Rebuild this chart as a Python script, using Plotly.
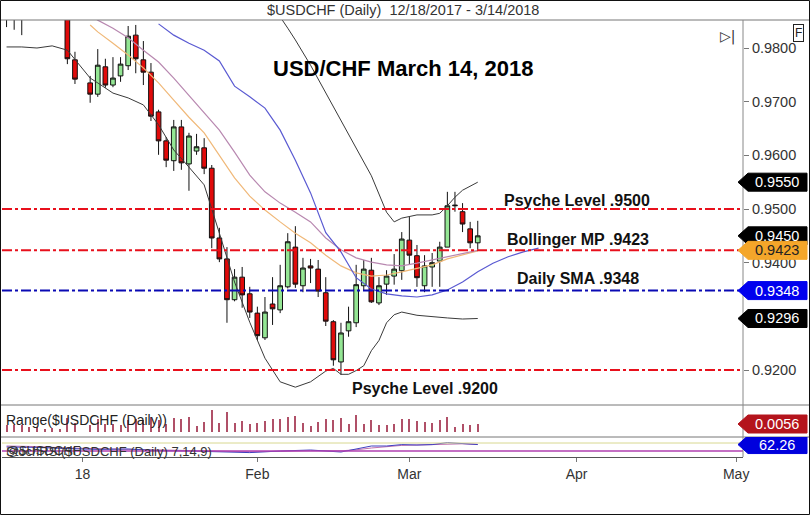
import plotly.graph_objects as go

# ---------------- data ----------------
dates = [
    "2017-12-18", "2017-12-19", "2017-12-20", "2017-12-21", "2017-12-22",
    "2017-12-25", "2017-12-26", "2017-12-27", "2017-12-28", "2017-12-29",
    "2018-01-02", "2018-01-03", "2018-01-04", "2018-01-05", "2018-01-08",
    "2018-01-09", "2018-01-10", "2018-01-11", "2018-01-12", "2018-01-15",
    "2018-01-16", "2018-01-17", "2018-01-18", "2018-01-19", "2018-01-22",
    "2018-01-23", "2018-01-24", "2018-01-25", "2018-01-26", "2018-01-29",
    "2018-01-30", "2018-01-31", "2018-02-01", "2018-02-02", "2018-02-05",
    "2018-02-06", "2018-02-07", "2018-02-08", "2018-02-09", "2018-02-12",
    "2018-02-13", "2018-02-14", "2018-02-15", "2018-02-16", "2018-02-19",
    "2018-02-20", "2018-02-21", "2018-02-22", "2018-02-23", "2018-02-26",
    "2018-02-27", "2018-02-28", "2018-03-01", "2018-03-02", "2018-03-05",
    "2018-03-06", "2018-03-07", "2018-03-08", "2018-03-09", "2018-03-12",
    "2018-03-13", "2018-03-14",
]
opens = [
    0.9872, 0.9866, 0.9858, 0.9861, 0.9880, 0.9886, 0.9880, 0.9868, 0.9862, 0.9778,
    0.9735, 0.9714, 0.9765, 0.9731, 0.9748, 0.9767, 0.9824, 0.9778, 0.9755, 0.9681,
    0.9627, 0.9590, 0.9653, 0.9584, 0.9608, 0.9614, 0.9576, 0.9446, 0.9407, 0.9331,
    0.9373, 0.9342, 0.9306, 0.9260, 0.9323, 0.9312, 0.9355, 0.9429, 0.9357, 0.9394,
    0.9388, 0.9344, 0.9290, 0.9215, 0.9273, 0.9288, 0.9357, 0.9386, 0.9325, 0.9360,
    0.9375, 0.9385, 0.9442, 0.9413, 0.9357, 0.9392, 0.9403, 0.9429, 0.9506, 0.9495,
    0.9463, 0.9437,
]
highs = [
    0.9885, 0.9880, 0.9872, 0.9888, 0.9896, 0.9892, 0.9890, 0.9876, 0.9870, 0.9793,
    0.9748, 0.9798, 0.9780, 0.9783, 0.9783, 0.9841, 0.9843, 0.9813, 0.9772, 0.9685,
    0.9634, 0.9666, 0.9666, 0.9642, 0.9640, 0.9632, 0.9582, 0.9465, 0.9429, 0.9388,
    0.9392, 0.9355, 0.9318, 0.9336, 0.9373, 0.9396, 0.9455, 0.9468, 0.9409, 0.9407,
    0.9405, 0.9373, 0.9293, 0.9288, 0.9318, 0.9396, 0.9405, 0.9409, 0.9373, 0.9386,
    0.9416, 0.9457, 0.9485, 0.9433, 0.9414, 0.9418, 0.9439, 0.9532, 0.9532, 0.9511,
    0.9476, 0.9478,
]
lows = [
    0.9839, 0.9834, 0.9824, 0.9856, 0.9862, 0.9874, 0.9860, 0.9855, 0.9770, 0.9733,
    0.9698, 0.9709, 0.9726, 0.9727, 0.9737, 0.9759, 0.9753, 0.9731, 0.9664, 0.9601,
    0.9578, 0.9571, 0.9573, 0.9534, 0.9601, 0.9565, 0.9427, 0.9401, 0.9288, 0.9328,
    0.9316, 0.9297, 0.9256, 0.9256, 0.9284, 0.9306, 0.9352, 0.9353, 0.9345, 0.9362,
    0.9336, 0.9282, 0.9208, 0.9191, 0.9262, 0.9280, 0.9349, 0.9325, 0.9321, 0.9340,
    0.9359, 0.9368, 0.9396, 0.9355, 0.9345, 0.9355, 0.9355, 0.9429, 0.9495, 0.9457,
    0.9427, 0.9424,
]
closes = [
    0.9866, 0.9858, 0.9861, 0.9880, 0.9886, 0.9880, 0.9868, 0.9862, 0.9780, 0.9742,
    0.9714, 0.9768, 0.9731, 0.9744, 0.9770, 0.9822, 0.9780, 0.9755, 0.9673, 0.9627,
    0.9591, 0.9653, 0.9586, 0.9636, 0.9616, 0.9576, 0.9446, 0.9407, 0.9331, 0.9373,
    0.9340, 0.9308, 0.9264, 0.9308, 0.9314, 0.9357, 0.9439, 0.9360, 0.9390, 0.9390,
    0.9347, 0.9291, 0.9219, 0.9269, 0.9290, 0.9359, 0.9388, 0.9327, 0.9357, 0.9375,
    0.9388, 0.9444, 0.9414, 0.9372, 0.9394, 0.9400, 0.9429, 0.9506, 0.9507, 0.9472,
    0.9437, 0.9450,
]

# Bollinger bands (20,2)
lower_dates = ["2017-12-18", "2017-12-20", "2017-12-22", "2017-12-26", "2017-12-28",
               "2018-01-02", "2018-01-03", "2018-01-05", "2018-01-09", "2018-01-11",
               "2018-01-15", "2018-01-17", "2018-01-19", "2018-01-23", "2018-01-25",
               "2018-01-29", "2018-01-31", "2018-02-02", "2018-02-06", "2018-02-08",
               "2018-02-12", "2018-02-14", "2018-02-15", "2018-02-16", "2018-02-19",
               "2018-02-20", "2018-02-21", "2018-02-22", "2018-02-23", "2018-02-26",
               "2018-02-27", "2018-02-28", "2018-03-02", "2018-03-06", "2018-03-08",
               "2018-03-12", "2018-03-14"]
lower_vals = [0.9802, 0.9802, 0.9800, 0.9804, 0.9796,
              0.9744, 0.9735, 0.9716, 0.9707, 0.9694,
              0.9657, 0.9610, 0.9578, 0.9545, 0.9455,
              0.9364, 0.9289, 0.9222, 0.9178, 0.9168,
              0.9178, 0.9198, 0.9203, 0.9192, 0.9192,
              0.9199, 0.9208, 0.9236, 0.9255, 0.9288,
              0.9303, 0.9308, 0.9302, 0.9299, 0.9297,
              0.9295, 0.9296]
upper_dates = ["2018-02-02", "2018-02-06", "2018-02-07", "2018-02-08", "2018-02-12",
               "2018-02-14", "2018-02-16", "2018-02-20", "2018-02-22", "2018-02-26",
               "2018-02-27", "2018-02-28", "2018-03-02", "2018-03-06", "2018-03-07",
               "2018-03-08", "2018-03-09", "2018-03-12", "2018-03-13", "2018-03-14"]
upper_vals = [0.9890, 0.9858, 0.9837, 0.9815, 0.9768,
              0.9716, 0.9666, 0.9614, 0.9562, 0.9494,
              0.9476, 0.9483, 0.9489, 0.9489, 0.9492,
              0.9506, 0.9522, 0.9535, 0.9543, 0.9550]
middle_dates = ["2018-01-02", "2018-01-03", "2018-01-05", "2018-01-09", "2018-01-11",
                "2018-01-15", "2018-01-17", "2018-01-19", "2018-01-23", "2018-01-25",
                "2018-01-29", "2018-01-31", "2018-02-02", "2018-02-06", "2018-02-08",
                "2018-02-12", "2018-02-14", "2018-02-16", "2018-02-20", "2018-02-22",
                "2018-02-26", "2018-02-28", "2018-03-02", "2018-03-06", "2018-03-08",
                "2018-03-12", "2018-03-14"]
middle_vals = [0.9861, 0.9852, 0.9837, 0.9819, 0.9796,
               0.9774, 0.9744, 0.9712, 0.9681, 0.9647,
               0.9606, 0.9563, 0.9532, 0.9511, 0.9494,
               0.9476, 0.9446, 0.9424, 0.9409, 0.9401,
               0.9396, 0.9394, 0.9399, 0.9405, 0.9411,
               0.9416, 0.9423]
ema_vals = [0.9843, 0.9830, 0.9809, 0.9787, 0.9763,
            0.9735, 0.9703, 0.9671, 0.9642, 0.9601,
            0.9558, 0.9524, 0.9498, 0.9476, 0.9455,
            0.9437, 0.9414, 0.9394, 0.9381, 0.9375,
            0.9377, 0.9383, 0.9390, 0.9396, 0.9407,
            0.9414, 0.9422]
sma_dates = ["2018-01-15", "2018-01-17", "2018-01-19", "2018-01-23", "2018-01-25",
             "2018-01-29", "2018-01-31", "2018-02-02", "2018-02-06", "2018-02-08",
             "2018-02-12", "2018-02-14", "2018-02-16", "2018-02-20", "2018-02-22",
             "2018-02-26", "2018-02-28", "2018-03-02", "2018-03-06", "2018-03-08",
             "2018-03-12", "2018-03-14", "2018-03-16", "2018-03-20", "2018-03-22",
             "2018-03-26"]
sma_vals = [0.9845, 0.9824, 0.9809, 0.9796, 0.9776,
            0.9729, 0.9709, 0.9688, 0.9647, 0.9591,
            0.9530, 0.9456, 0.9420, 0.9372, 0.9351,
            0.9342, 0.9338, 0.9336, 0.9340, 0.9349,
            0.9364, 0.9383, 0.9399, 0.9411, 0.9420,
            0.9427]

# lower strip oscillator (read approximately)
osc_dates = ["2017-12-18", "2017-12-22", "2017-12-28", "2018-01-03", "2018-01-09",
             "2018-01-15", "2018-01-19", "2018-01-25", "2018-01-31", "2018-02-06",
             "2018-02-12", "2018-02-16", "2018-02-20", "2018-02-22", "2018-02-26",
             "2018-02-28", "2018-03-02", "2018-03-06", "2018-03-08", "2018-03-12",
             "2018-03-14"]
osc_vals = [50, 48, 42, 38, 40, 32, 30, 25, 22, 30, 35, 25, 40, 55, 55, 62, 60, 62, 72, 68, 62.26]
sig_vals = [55, 52, 45, 42, 40, 36, 33, 29, 26, 28, 32, 31, 36, 45, 52, 58, 60, 61, 65, 66, 63]

levels = [0.9500, 0.9423, 0.9348, 0.9200]
level_colors = ["#e8101c", "#e8101c", "#0a0ab4", "#e8101c"]
level_texts = ["Psyche Level .9500", "Bollinger MP .9423", "Daily SMA .9348", "Psyche Level .9200"]

ranges = [round(h - l, 4) for h, l in zip(highs, lows)]

tick_dates = ["2018-01-01", "2018-02-01", "2018-03-01", "2018-04-02", "2018-05-01"]
tick_text = ["18", "Feb", "Mar", "Apr", "May"]
price_ticks = [0.92, 0.93, 0.94, 0.95, 0.96, 0.97, 0.98]

FONT = "Liberation Sans, Arial, sans-serif"

# ---------------- figure ----------------
fig = go.Figure()

fig.add_trace(go.Scatter(x=lower_dates, y=lower_vals, mode="lines",
                         line=dict(color="#3a3a3a", width=1), hoverinfo="skip"))
fig.add_trace(go.Scatter(x=upper_dates, y=upper_vals, mode="lines",
                         line=dict(color="#3a3a3a", width=1), hoverinfo="skip"))
fig.add_trace(go.Scatter(x=middle_dates, y=ema_vals, mode="lines",
                         line=dict(color="#f0b878", width=1.2), hoverinfo="skip"))
fig.add_trace(go.Scatter(x=middle_dates, y=middle_vals, mode="lines",
                         line=dict(color="#b888b0", width=1.2), hoverinfo="skip"))
fig.add_trace(go.Scatter(x=sma_dates, y=sma_vals, mode="lines",
                         line=dict(color="#5a5ad2", width=1.2), hoverinfo="skip"))

fig.add_trace(go.Candlestick(
    x=dates, open=opens, high=highs, low=lows, close=closes,
    increasing=dict(fillcolor="#94e694", line=dict(color="#111111", width=1)),
    decreasing=dict(fillcolor="#e00a0a", line=dict(color="#111111", width=1)),
    whiskerwidth=0, hoverinfo="skip"))

fig.add_trace(go.Bar(x=dates, y=ranges, yaxis="y2", width=0.14 * 86400000,
                     marker=dict(color="#b05068", line=dict(width=0)), hoverinfo="skip"))

fig.add_trace(go.Scatter(x=osc_dates, y=sig_vals, yaxis="y3", mode="lines",
                         line=dict(color="#c070b0", width=1), hoverinfo="skip"))
fig.add_trace(go.Scatter(x=osc_dates, y=osc_vals, yaxis="y3", mode="lines",
                         line=dict(color="#4040c0", width=1), hoverinfo="skip"))

shapes = []
annotations = []

# level lines
for v, c in zip(levels, level_colors):
    shapes.append(dict(type="line", xref="paper", yref="y", x0=0, x1=1, y0=v, y1=v,
                       line=dict(color=c, width=2, dash="10px,3px,3px,3px")))

# oscillator reference lines
shapes.append(dict(type="line", xref="paper", yref="y3", x0=0, x1=1, y0=70, y1=70,
                   line=dict(color="#d8d890", width=1)))
shapes.append(dict(type="line", xref="paper", yref="y3", x0=0, x1=1, y0=30, y1=30,
                   line=dict(color="#b040b0", width=1.5)))

# panel borders
PW, PH = 741.0, 437.0
def px_x(p):
    return (p - 2) / PW
def px_y(p):
    return (457 - p) / PH

for yy in (20, 405, 437):
    shapes.append(dict(type="line", xref="paper", yref="paper", x0=px_x(0), x1=px_x(810),
                       y0=px_y(yy), y1=px_y(yy), line=dict(color="#777777", width=1)))
shapes.append(dict(type="line", xref="paper", yref="paper", x0=1, x1=1, y0=0, y1=1,
                   line=dict(color="#888888", width=1)))
shapes.append(dict(type="rect", xref="paper", yref="paper", x0=px_x(0.5), x1=px_x(809.5),
                   y0=px_y(514.5), y1=px_y(0.5), line=dict(color="#111111", width=1)))

# price tags
TAG_PATH = "M -5,0 L 5,9 L 64,9 L 64,-9 L 5,-9 Z"
tags = [
    (0.9550, "y", "#000000", "white"),
    (0.9450, "y", "#000000", "white"),
    (0.9423, "y", "#f4a62a", "#222222"),
    (0.9348, "y", "#0000ee", "white"),
    (0.9296, "y", "#000000", "white"),
    (0.0056, "y2", "#b4141c", "white"),
    (62.26, "y3", "#0000dd", "white"),
]
for v, ref, bg, fc in tags:
    shapes.append(dict(type="path", xref="paper", yref=ref, xsizemode="pixel",
                       ysizemode="pixel", xanchor=1, yanchor=v, path=TAG_PATH,
                       fillcolor=bg, line=dict(color=bg, width=1), layer="above"))
    txt = f"{v:.2f}" if ref == "y3" else f"{v:.4f}"
    annotations.append(dict(xref="paper", yref=ref, x=1, y=v, xshift=34, text=txt,
                            showarrow=False, xanchor="center", yanchor="middle",
                            font=dict(family=FONT, size=14.5, color=fc)))

# text annotations
annotations.append(dict(xref="paper", yref="paper", x=px_x(403), y=px_y(10),
                        text="$USDCHF (Daily)  12/18/2017 - 3/14/2018", showarrow=False,
                        xanchor="center", yanchor="middle",
                        font=dict(family=FONT, size=14.5, color="#333333")))
annotations.append(dict(xref="paper", yref="paper", x=px_x(403), y=px_y(68),
                        text="<b>USD/CHF March 14, 2018</b>", showarrow=False,
                        xanchor="center", yanchor="middle",
                        font=dict(family=FONT, size=22, color="#000000")))
label_pos = [(577, 200), (578, 240), (578, 278), (425, 388)]
for (lx, ly), t in zip(label_pos, level_texts):
    annotations.append(dict(xref="paper", yref="paper", x=px_x(lx), y=px_y(ly),
                            text=f"<b>{t}</b>", showarrow=False,
                            xanchor="center", yanchor="middle",
                            font=dict(family=FONT, size=16, color="#111111")))
annotations.append(dict(xref="paper", yref="paper", x=px_x(4), y=px_y(420),
                        text="Range($USDCHF (Daily))", showarrow=False, xanchor="left",
                        yanchor="middle",
                        font=dict(family=FONT, size=14, color="#222222")))
annotations.append(dict(xref="paper", yref="paper", x=px_x(4), y=px_y(451),
                        text="StochRSI($USDCHF (Daily) 7,14,9)", showarrow=False, xanchor="left",
                        yanchor="middle",
                        font=dict(family=FONT, size=13, color="#333333")))
annotations.append(dict(xref="paper", yref="paper", x=px_x(4), y=px_y(450),
                        text="@$USDCHF", showarrow=False, xanchor="left", yanchor="middle",
                        font=dict(family=FONT, size=13, color="#333333")))
annotations.append(dict(xref="paper", yref="paper", x=px_x(798), y=px_y(33),
                        text="F", showarrow=False, bordercolor="#222222", borderwidth=1,
                        borderpad=1, xanchor="center", yanchor="middle",
                        font=dict(family=FONT, size=12, color="#222222")))
annotations.append(dict(xref="paper", yref="paper", x=px_x(727), y=px_y(37),
                        text="▷|", showarrow=False, xanchor="center", yanchor="middle",
                        font=dict(family="DejaVu Sans", size=14, color="#333333")))

fig.update_layout(
    width=810, height=515,
    margin=dict(l=2, r=67, t=20, b=58),
    paper_bgcolor="white", plot_bgcolor="white",
    showlegend=False, boxgap=0.12, bargap=0,
    shapes=shapes, annotations=annotations,
    xaxis=dict(type="date", range=["2017-12-15 09:36", "2018-05-01 21:36"],
               rangebreaks=[dict(bounds=["sat", "mon"])],
               rangeslider=dict(visible=False), anchor="y3",
               tickvals=tick_dates, ticktext=tick_text, ticks="outside", ticklen=4,
               tickcolor="#777777", showgrid=False, showline=True, linecolor="#555555",
               zeroline=False, tickfont=dict(family=FONT, size=14, color="#333333")),
    yaxis=dict(domain=[px_y(405), 1], range=[0.91348, 0.98522], side="right",
               anchor="x", tickvals=price_ticks,
               ticktext=[f"{t:.4f}" for t in price_ticks], ticks="outside", ticklen=5,
               tickcolor="#777777", showgrid=False, zeroline=False, showline=False,
               tickfont=dict(family=FONT, size=14.5, color="#333333")),
    yaxis2=dict(domain=[px_y(437), px_y(405)], range=[-0.0035, 0.0189], side="right",
                anchor="x", showticklabels=False, showgrid=False, zeroline=False,
                ticks=""),
    yaxis3=dict(domain=[0, px_y(437)], range=[0, 100], side="right", anchor="x",
                showticklabels=False, showgrid=False, zeroline=False, ticks=""),
)

fig.write_html("out.html")
